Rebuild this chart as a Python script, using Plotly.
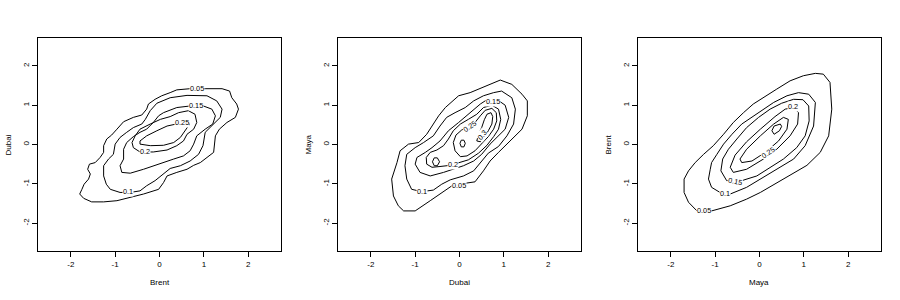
import plotly.graph_objects as go

# ---------------- Panel 1: Brent (x) vs Dubai (y) ----------------
p1_005_x = [0.39,0.69,1.03,1.41,1.58,1.63,1.74,1.78,1.71,1.52,1.35,1.26,1.22,1.07,0.92,0.77,0.62,0.39,0.17,0.09,-0.02,-0.36,-0.66,-0.96,-1.26,-1.53,-1.71,-1.80,-1.75,-1.70,-1.60,-1.56,-1.62,-1.58,-1.45,-1.34,-1.26,-1.26,-1.19,-1.08,-0.96,-0.81,-0.59,-0.40,-0.29,-0.25,-0.10,0.05,0.24,0.39]
p1_005_y = [1.39,1.42,1.42,1.42,1.36,1.19,1.03,0.90,0.69,0.56,0.39,0.22,-0.20,-0.33,-0.46,-0.53,-0.63,-0.71,-0.80,-0.97,-1.14,-1.26,-1.35,-1.43,-1.46,-1.46,-1.37,-1.26,-1.14,-1.01,-0.88,-0.75,-0.63,-0.50,-0.46,-0.33,-0.20,-0.03,0.14,0.24,0.39,0.58,0.69,0.75,0.90,1.03,1.15,1.24,1.32,1.39]
p1_010_x = [-0.06,0.24,0.62,1.07,1.29,1.41,1.37,1.18,1.03,0.98,0.88,0.69,0.47,0.24,0.05,-0.10,-0.29,-0.44,-0.66,-0.89,-1.11,-1.20,-1.26,-1.26,-1.15,-1.04,-1.00,-0.89,-0.74,-0.59,-0.40,-0.32,-0.21,-0.06]
p1_010_y = [1.05,1.19,1.25,1.24,1.11,0.90,0.69,0.47,0.31,-0.03,-0.25,-0.42,-0.54,-0.61,-0.78,-0.92,-1.05,-1.18,-1.22,-1.22,-1.14,-1.01,-0.80,-0.54,-0.37,-0.25,0.01,0.18,0.31,0.43,0.52,0.64,0.86,1.05]
p1_015_x = [0.09,0.39,0.69,0.99,1.18,1.26,1.20,1.03,0.84,0.77,0.69,0.54,0.32,0.09,-0.14,-0.36,-0.66,-0.85,-0.89,-0.81,-0.81,-0.74,-0.59,-0.44,-0.29,-0.14,-0.02,0.09]
p1_015_y = [0.81,0.94,0.98,0.98,0.90,0.73,0.52,0.39,0.22,0.01,-0.16,-0.29,-0.37,-0.46,-0.54,-0.63,-0.73,-0.71,-0.54,-0.37,-0.12,0.05,0.20,0.31,0.39,0.56,0.73,0.81]
p1_020_x = [-0.59,-0.44,-0.14,0.17,0.39,0.54,0.62,0.77,0.84,0.80,0.65,0.43,0.24,0.02,-0.21,-0.44,-0.55,-0.62,-0.59]
p1_020_y = [-0.08,-0.19,-0.19,-0.14,-0.03,0.09,0.26,0.39,0.56,0.77,0.86,0.81,0.71,0.64,0.52,0.39,0.22,0.05,-0.08]
p1_025_x = [-0.44,-0.21,0.09,0.32,0.47,0.58,0.68,0.62,0.39,0.17,-0.06,-0.29,-0.44,-0.44]
p1_025_y = [0.01,-0.03,-0.02,0.05,0.18,0.35,0.52,0.58,0.53,0.47,0.35,0.22,0.09,0.01]
p1_lab_text = ["0.05", "0.15", "0.25", "0.2", "0.1"]
p1_lab_x = [0.84, 0.82, 0.50, -0.32, -0.70]
p1_lab_y = [1.42, 0.98, 0.56, -0.19, -1.20]
p1_lab_ang = [0, 0, 0, 0, 0]

# ---------------- Panel 2: Dubai (x) vs Maya (y) ----------------
p2_005_x = [-1.26,-1.00,-0.66,-0.40,-0.17,0.17,0.35,0.54,0.69,0.88,1.14,1.41,1.53,1.53,1.41,1.18,0.92,0.69,0.47,0.24,-0.02,-0.14,-0.32,-0.47,-0.62,-0.74,-0.92,-1.15,-1.34,-1.41,-1.53,-1.49,-1.38,-1.26]
p2_005_y = [-1.69,-1.69,-1.43,-1.22,-1.05,-0.98,-0.95,-0.67,-0.42,-0.20,0.09,0.39,0.73,1.11,1.28,1.53,1.64,1.53,1.41,1.32,1.24,1.11,0.94,0.73,0.47,0.26,0.05,0.01,-0.16,-0.46,-0.88,-1.31,-1.56,-1.69]
p2_010_x = [-1.08,-0.85,-0.59,-0.40,-0.21,0.09,0.32,0.50,0.65,0.88,1.07,1.22,1.26,1.18,0.95,0.77,0.54,0.32,0.13,-0.10,-0.29,-0.44,-0.59,-0.81,-1.00,-1.19,-1.23,-1.19,-1.08]
p2_010_y = [-1.14,-1.20,-1.16,-1.01,-0.90,-0.80,-0.67,-0.42,-0.22,-0.05,0.22,0.52,0.90,1.19,1.36,1.32,1.24,1.11,0.94,0.81,0.69,0.47,0.22,0.05,-0.08,-0.25,-0.54,-0.88,-1.14]
p2_015_x = [0.62,0.84,1.03,1.11,1.03,0.84,0.69,0.50,0.32,0.09,-0.14,-0.36,-0.66,-0.89,-1.00,-0.96,-0.77,-0.62,-0.44,-0.25,-0.02,0.13,0.28,0.47,0.62]
p2_015_y = [1.14,1.15,1.00,0.69,0.39,0.18,0.01,-0.25,-0.42,-0.54,-0.63,-0.71,-0.80,-0.71,-0.50,-0.33,-0.20,-0.08,0.09,0.35,0.56,0.71,0.86,1.03,1.14]
p2_020_x = [-0.74,-0.75,-0.66,-0.51,-0.36,-0.25,-0.14,0.02,0.20,0.39,0.54,0.73,0.88,0.93,0.88,0.77,0.62,0.43,0.20,-0.02,-0.21,-0.44,-0.62,-0.74]
p2_020_y = [-0.50,-0.33,-0.20,-0.14,-0.03,0.14,0.35,0.52,0.64,0.77,0.94,1.00,0.90,0.64,0.39,0.20,-0.02,-0.22,-0.39,-0.47,-0.53,-0.56,-0.58,-0.50]
p2_025_x = [-0.10,-0.14,-0.08,0.05,0.23,0.35,0.47,0.58,0.73,0.83,0.84,0.77,0.65,0.50,0.35,0.17,0.02,-0.10]
p2_025_y = [-0.16,0.05,0.24,0.37,0.46,0.56,0.73,0.87,0.92,0.81,0.60,0.39,0.20,0.01,-0.16,-0.29,-0.31,-0.16]
p2_025b_x = [-0.61,-0.57,-0.50,-0.45,-0.50,-0.57,-0.61]
p2_025b_y = [-0.44,-0.34,-0.34,-0.44,-0.54,-0.54,-0.44]
p2_030_x = [0.39,0.43,0.50,0.56,0.62,0.71,0.75,0.73,0.65,0.56,0.47,0.39]
p2_030_y = [0.09,0.26,0.43,0.63,0.77,0.81,0.71,0.52,0.35,0.18,0.07,0.09]
p2_030b_x = [0.01,0.04,0.10,0.13,0.10,0.04,0.01]
p2_030b_y = [0.03,0.11,0.11,0.03,-0.06,-0.06,0.03]
p2_lab_text = ["0.15", "0.25", "0.3", "0.2", "0.1", "0.05"]
p2_lab_x = [0.75, 0.23, 0.50, -0.14, -0.85, -0.02]
p2_lab_y = [1.09, 0.45, 0.24, -0.50, -1.20, -1.05]
p2_lab_ang = [0, -35, -50, 0, 0, 0]

# ---------------- Panel 3: Maya (x) vs Brent (y) ----------------
p3_005_x = [-1.41,-1.08,-0.66,-0.29,0.02,0.39,0.77,1.07,1.37,1.56,1.63,1.59,1.44,1.26,0.99,0.69,0.39,0.09,-0.14,-0.36,-0.59,-0.81,-1.04,-1.26,-1.45,-1.60,-1.70,-1.70,-1.60,-1.41]
p3_005_y = [-1.69,-1.69,-1.56,-1.39,-1.22,-0.97,-0.73,-0.53,-0.20,0.22,0.90,1.58,1.79,1.81,1.75,1.62,1.41,1.19,1.03,0.81,0.56,0.26,-0.03,-0.25,-0.46,-0.67,-0.88,-1.22,-1.47,-1.69]
p3_010_x = [-0.89,-0.66,-0.29,0.02,0.39,0.77,1.03,1.22,1.26,1.11,0.88,0.62,0.32,0.09,-0.17,-0.40,-0.62,-0.81,-0.96,-1.08,-1.11,-1.15,-1.08,-0.89]
p3_010_y = [-1.22,-1.26,-1.09,-0.88,-0.63,-0.37,-0.03,0.47,1.07,1.28,1.32,1.24,1.07,0.90,0.71,0.52,0.26,0.01,-0.25,-0.46,-0.63,-0.88,-1.09,-1.22]
p3_015_x = [-0.74,-0.40,-0.06,0.24,0.54,0.84,1.03,1.12,1.11,0.98,0.77,0.50,0.24,-0.02,-0.29,-0.51,-0.70,-0.83,-0.87,-0.74]
p3_015_y = [-0.92,-0.92,-0.80,-0.58,-0.37,-0.08,0.22,0.60,0.98,1.14,1.15,1.05,0.90,0.69,0.43,0.14,-0.12,-0.37,-0.67,-0.92]
p3_020_x = [-0.59,-0.29,0.09,0.39,0.69,0.86,0.88,0.77,0.58,0.35,0.02,-0.29,-0.55,-0.66,-0.59]
p3_020_y = [-0.71,-0.63,-0.37,-0.12,0.22,0.52,0.81,0.94,0.90,0.71,0.39,0.07,-0.27,-0.58,-0.71]
p3_025_x = [-0.40,-0.44,-0.29,0.02,0.32,0.54,0.65,0.62,0.43,0.13,-0.17,-0.40]
p3_025_y = [-0.46,-0.37,-0.12,0.22,0.52,0.69,0.64,0.39,0.09,-0.20,-0.42,-0.46]
p3_030_x = [0.28,0.33,0.47,0.50,0.45,0.33,0.28]
p3_030_y = [0.35,0.47,0.52,0.46,0.35,0.26,0.35]
p3_lab_text = ["0.05", "0.1", "0.15", "0.2", "0.25"]
p3_lab_x = [-1.25, -0.77, -0.55, 0.75, 0.20]
p3_lab_y = [-1.69, -1.25, -0.95, 0.97, -0.20]
p3_lab_ang = [0, 0, 12, 0, -35]

x_titles = ["Brent", "Dubai", "Maya"]
y_titles = ["Dubai", "Maya", "Brent"]
tick_vals = [-2, -1, 0, 1, 2]
tick_text = ["-2", "-1", "0", "1", "2"]

panels = [
    ([(p1_005_x, p1_005_y), (p1_010_x, p1_010_y), (p1_015_x, p1_015_y),
      (p1_020_x, p1_020_y), (p1_025_x, p1_025_y)],
     (p1_lab_text, p1_lab_x, p1_lab_y, p1_lab_ang)),
    ([(p2_005_x, p2_005_y), (p2_010_x, p2_010_y), (p2_015_x, p2_015_y),
      (p2_020_x, p2_020_y), (p2_025_x, p2_025_y), (p2_025b_x, p2_025b_y),
      (p2_030_x, p2_030_y), (p2_030b_x, p2_030b_y)],
     (p2_lab_text, p2_lab_x, p2_lab_y, p2_lab_ang)),
    ([(p3_005_x, p3_005_y), (p3_010_x, p3_010_y), (p3_015_x, p3_015_y),
      (p3_020_x, p3_020_y), (p3_025_x, p3_025_y), (p3_030_x, p3_030_y)],
     (p3_lab_text, p3_lab_x, p3_lab_y, p3_lab_ang)),
]

FONT = "Liberation Sans, Arial, sans-serif"
fig = go.Figure()
annotations = []
domains = [[0.0, 0.2883], [0.3559, 0.6441], [0.7117, 1.0]]
title_x_px = [8, 308, 608]

for i, (lines, labels) in enumerate(panels):
    ax = "" if i == 0 else str(i + 1)
    for lx, ly in lines:
        fig.add_trace(go.Scatter(x=lx, y=ly, mode="lines", xaxis="x" + ax, yaxis="y" + ax,
                                 line=dict(color="black", width=1), hoverinfo="skip",
                                 showlegend=False))
    txt, tx, ty, ta = labels
    for t, xx, yy, ang in zip(txt, tx, ty, ta):
        annotations.append(dict(text=t, x=xx, y=yy, xref="x" + ax, yref="y" + ax,
                                showarrow=False, textangle=ang, bgcolor="white", borderpad=0,
                                font=dict(family=FONT, size=7.3, color="black")))
    d0, d1 = domains[i]
    annotations.append(dict(text=x_titles[i], x=(d0 + d1) / 2, y=-0.150, xref="paper", yref="paper",
                            showarrow=False, xanchor="center", yanchor="middle",
                            font=dict(family=FONT, size=8, color="black")))
    annotations.append(dict(text=y_titles[i], x=(title_x_px[i] - 38) / 843, y=0.5, xref="paper",
                            yref="paper", showarrow=False, xanchor="center", yanchor="middle",
                            textangle=-90, font=dict(family=FONT, size=8, color="black")))
    common = dict(showline=True, mirror=True, linecolor="black", linewidth=1,
                  ticks="outside", ticklen=5, tickwidth=1, tickcolor="black",
                  showgrid=False, zeroline=False, tickvals=tick_vals, ticktext=tick_text,
                  tickfont=dict(family=FONT, size=8, color="black"), fixedrange=True)
    fig.layout["xaxis" + ax] = dict(domain=domains[i], range=[-2.74, 2.74],
                                    anchor="y" + ax, **common)
    fig.layout["yaxis" + ax] = dict(domain=[0, 1], range=[-2.71, 2.71], anchor="x" + ax,
                                    tickangle=-90, **common)

fig.update_layout(width=900, height=300, margin=dict(l=38, r=19, t=38, b=49),
                  paper_bgcolor="white", plot_bgcolor="white", showlegend=False,
                  annotations=annotations)
fig.write_html("out.html")
